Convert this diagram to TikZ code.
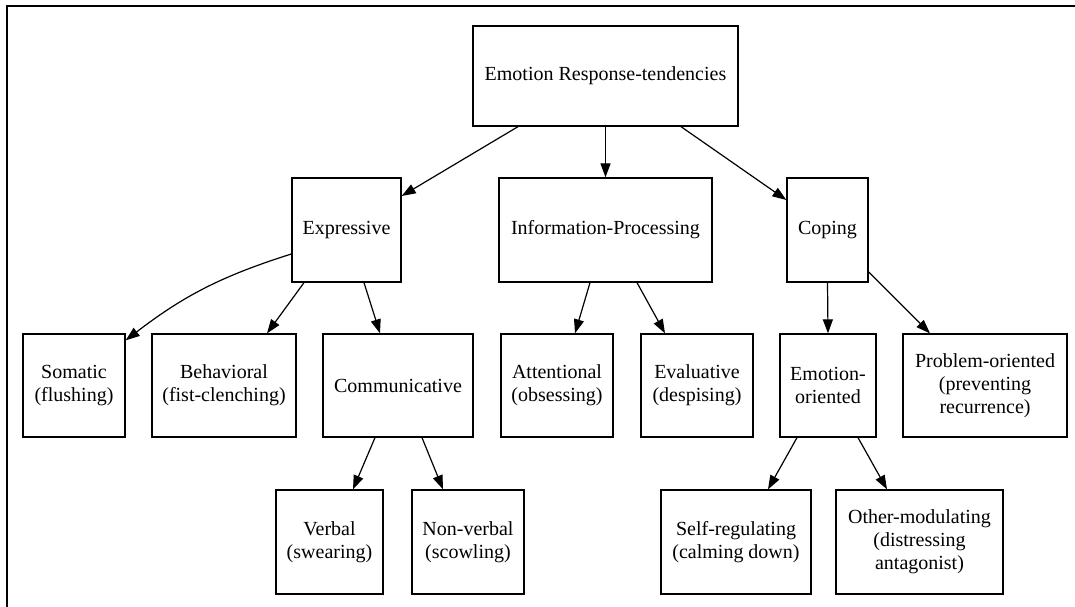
\documentclass[tikz,border=0pt]{standalone}
\usepackage{fontspec}
\setmainfont{Liberation Serif}
\usetikzlibrary{arrows.meta}
\tikzset{
  box/.style={draw, line width=1.3pt, rectangle, align=center, inner sep=0pt,
    font=\fontsize{20}{23}\selectfont},
  arr/.style={line width=1.2pt, -{Triangle[length=14pt,width=10pt]}},
}
\begin{document}
\begin{tikzpicture}[x=1pt,y=-1pt]
\useasboundingbox (0,0) rectangle (1075,607);
\draw[line width=1.2pt] (7,607) -- (7,6) -- (1075,6);
% level 1
\node[box, minimum width=265pt, minimum height=100pt] (root) at (605.5,76) {Emotion Response-tendencies};
% level 2
\node[box, minimum width=109pt, minimum height=104pt] (exp) at (346.5,230) {Expressive};
\node[box, minimum width=213pt, minimum height=104pt] (ip) at (605.5,230) {Information-Processing};
\node[box, minimum width=81pt, minimum height=104pt] (cop) at (827.5,230) {Coping};
% level 3
\node[box, minimum width=102pt, minimum height=103pt] (som) at (74,385.5) {Somatic\\(flushing)};
\node[box, minimum width=144pt, minimum height=103pt] (beh) at (224,385.5) {Behavioral\\(fist-clenching)};
\node[box, minimum width=150pt, minimum height=103pt] (com) at (398,385.5) {Communicative};
\node[box, minimum width=112pt, minimum height=103pt] (att) at (557,385.5) {Attentional\\(obsessing)};
\node[box, minimum width=112pt, minimum height=103pt] (eva) at (697,385.5) {Evaluative\\(despising)};
\node[box, minimum width=96pt, minimum height=103pt] (emo) at (828,385.5) {Emotion-\\oriented};
\node[box, minimum width=164pt, minimum height=103pt] (pro) at (985,385.5) {Problem-oriented\\(preventing\\recurrence)};
% level 4
\node[box, minimum width=107pt, minimum height=104pt] (ver) at (329.5,542) {Verbal\\(swearing)};
\node[box, minimum width=112pt, minimum height=104pt] (non) at (468,542) {Non-verbal\\(scowling)};
\node[box, minimum width=150pt, minimum height=104pt] (sel) at (736,542) {Self-regulating\\(calming down)};
\node[box, minimum width=167pt, minimum height=104pt] (oth) at (919.5,542) {Other-modulating\\(distressing\\antagonist)};
% edges
\draw[arr] ([xshift=-87.5pt]root.south) -- ([yshift=34pt]exp.east);
\draw[arr] (root.south) -- (ip.north);
\draw[arr] ([xshift=75.5pt]root.south) -- ([yshift=30pt]cop.west);
\draw[arr] ([yshift=-24pt]exp.west) to[bend right=10] ([yshift=-7pt]som.north east);
\draw[arr] ([xshift=-42.5pt]exp.south) -- ([xshift=43pt]beh.north);
\draw[arr] ([xshift=17.5pt]exp.south) -- ([xshift=-18pt]com.north);
\draw[arr] ([xshift=-15.5pt]ip.south) -- ([xshift=18pt]att.north);
\draw[arr] ([xshift=31.5pt]ip.south) -- ([xshift=-32pt]eva.north);
\draw[arr] (cop.south) -- (emo.north);
\draw[arr] ([yshift=-42pt]cop.east) -- ([xshift=-55pt]pro.north);
\draw[arr] ([xshift=-23pt]com.south) -- ([xshift=23.5pt]ver.north);
\draw[arr] ([xshift=24pt]com.south) -- ([xshift=-25pt]non.north);
\draw[arr] ([xshift=-31pt]emo.south) -- ([xshift=32pt]sel.north);
\draw[arr] ([xshift=30pt]emo.south) -- ([xshift=-32.5pt]oth.north);
\end{tikzpicture}
\end{document}
